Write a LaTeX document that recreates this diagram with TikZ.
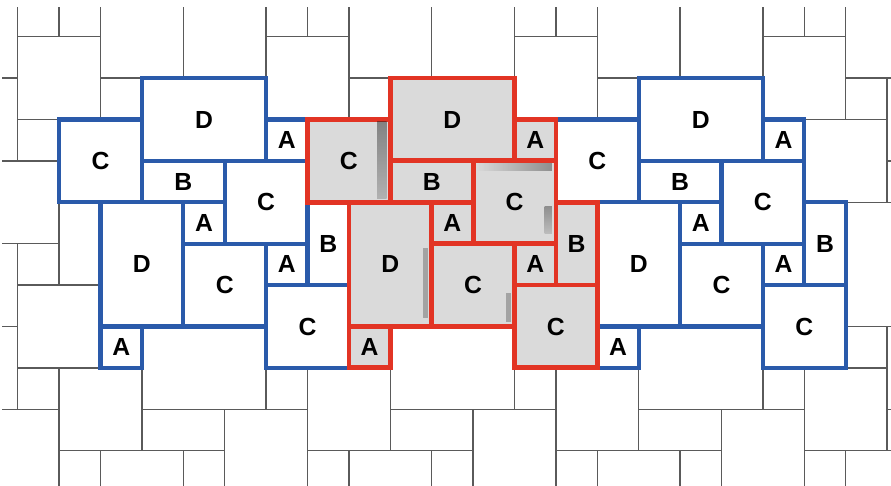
\documentclass[tikz,border=0pt]{standalone}
\usepackage{fontspec}
\setmainfont{Liberation Sans}
\usepackage{tikz}
\usepackage{xcolor}
\definecolor{pavingblue}{RGB}{42,90,170}
\definecolor{pavingred}{RGB}{226,52,36}
\definecolor{jointgrey}{RGB}{90,90,90}
\definecolor{stonegrey}{RGB}{218,218,218}

% one 6x6 repeat of the pattern: x/y/width/height/size
\def\repeatunit{9/1/3/2/D, 12/2/1/1/A, 7/2/2/2/C, 9/3/2/1/B, 11/3/2/2/C, 10/4/1/1/A, 8/4/2/3/D, 10/5/2/2/C, 12/5/1/1/A, 13/4/1/2/B, 12/6/2/2/C, 8/7/1/1/A}

\begin{document}
\begin{tikzpicture}[
    joint/.style={draw=jointgrey, line width=1pt},
    slab/.style={draw, line width=2.8pt, fill=white, font=\bfseries\fontsize{17}{17}\selectfont, inner sep=0pt, outer sep=0pt},
    blueslab/.style={slab, draw=pavingblue},
    redslab/.style={slab, draw=pavingred, line width=3.3pt, fill=stonegrey},
    shadow/.style={black, opacity=0.45}
]
\useasboundingbox (-0.4275,0.8865) rectangle (21.0942,-10.8527);

% laid paving
\begin{scope}
\clip (-0.379,0.717) rectangle (21.0942,-10.8527);
\foreach \m in {-2,...,2}
  \foreach \n in {-1,0,1}
    \foreach \x/\y/\w/\h/\t in \repeatunit
      \draw[joint] ({\x+6*\m},{-\y-6*\n}) rectangle ++(\w,-\h);
\end{scope}

% blue repeats either side
\foreach \m/\side in {-1/west, 1/east}
  \foreach \x/\y/\w/\h/\t [count=\k] in \repeatunit
    \node[blueslab, minimum width=\w cm, minimum height=\h cm] (\side\k) at ({\x+6*\m+\w/2},{-\y-\h/2}) {\t};

% red repeat in the middle
\foreach \x/\y/\w/\h/\t [count=\k] in \repeatunit
  \node[redslab, minimum width=\w cm, minimum height=\h cm] (mid\k) at ({\x+\w/2},{-\y-\h/2}) {\t};

% shadows on the photographed stones
\shade[shadow, top color=black!90, bottom color=black!50] (8.68,-2.06) rectangle (8.91,-3.9);
\shade[shadow, left color=stonegrey, right color=black!80] (11.07,-3.07) rectangle (12.9,-3.22);
\shade[shadow, top color=black!80, bottom color=black!40] (12.73,-4.1) rectangle (12.9,-4.75);
\fill[shadow, opacity=0.25] (9.8,-5.1) rectangle (9.92,-6.8);
\fill[shadow, opacity=0.25] (11.8,-6.2) rectangle (11.92,-6.9);
\end{tikzpicture}
\end{document}
